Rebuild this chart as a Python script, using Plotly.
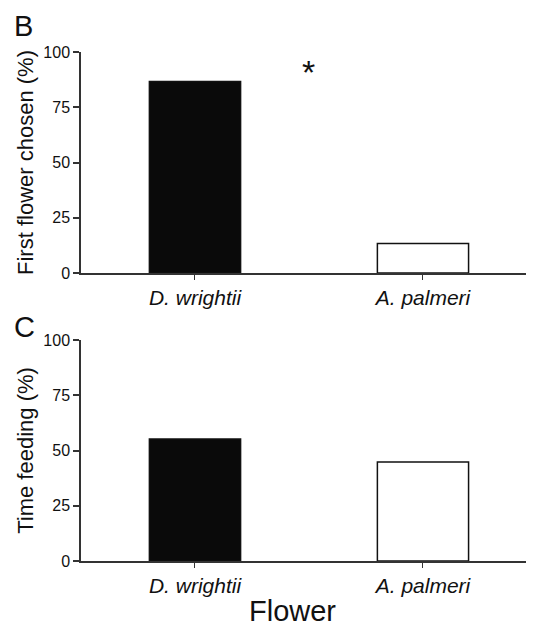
import plotly.graph_objects as go
from plotly.subplots import make_subplots

categories = ["D. wrightii", "A. palmeri"]
tick_labels = ["<i>D. wrightii</i>", "<i>A. palmeri</i>"]
first_chosen = [86.7, 13.3]
time_feeding = [55.2, 44.8]
bar_fills = ["#0a0a0a", "#ffffff"]
y_ticks = [0, 25, 50, 75, 100]

# page body has an 8px default margin; lay the figure out in window pixels
OFF = 8
W, H = 534 - OFF, 626 - OFF
L = 81 - OFF
FONT = "Liberation Sans, Arial, Helvetica, sans-serif"

fig = make_subplots(rows=2, cols=1)

fig.add_trace(go.Bar(x=categories, y=first_chosen, width=0.4,
                     marker=dict(color=bar_fills, line=dict(color="#111111", width=1.5)),
                     showlegend=False), row=1, col=1)
fig.add_trace(go.Bar(x=categories, y=time_feeding, width=0.4,
                     marker=dict(color=bar_fills, line=dict(color="#111111", width=1.5)),
                     showlegend=False), row=2, col=1)

def py(px):
    return 1 - (px - OFF) / H

def px_(x):
    return (x - OFF - L) / (W - L)

axis_common = dict(showline=True, linecolor="#333333", linewidth=1.5, ticks="outside",
                   tickcolor="#333333", showgrid=False, zeroline=False, automargin=False)

fig.update_layout(
    width=W, height=H, margin=dict(l=L, r=0, t=0, b=0, autoexpand=False),
    plot_bgcolor="white", paper_bgcolor="white",
    font=dict(family=FONT, color="#111111"),
    xaxis=dict(domain=[0, 1], anchor="y", range=[-0.5, 1.487], tickmode="array",
               tickvals=categories, ticktext=tick_labels, ticklen=5, tickwidth=1.2,
               tickfont=dict(size=21), **axis_common),
    xaxis2=dict(domain=[0, 1], anchor="y2", range=[-0.5, 1.487], tickmode="array",
                tickvals=categories, ticktext=tick_labels, ticklen=5, tickwidth=1.2,
                tickfont=dict(size=21), **axis_common),
    yaxis=dict(domain=[py(273), py(52)], anchor="x", range=[0, 100], tickvals=y_ticks,
               ticklen=6, tickwidth=1.5, tickfont=dict(size=16),
               title=dict(text="First flower chosen (%)", font=dict(size=22), standoff=4),
               **axis_common),
    yaxis2=dict(domain=[py(561), py(340)], anchor="x2", range=[0, 100], tickvals=y_ticks,
                ticklen=6, tickwidth=1.5, tickfont=dict(size=16),
                title=dict(text="Time feeding (%)", font=dict(size=22), standoff=4),
                **axis_common),
)

fig.add_annotation(x=0.5, y=91, xref="x", yref="y", text="*", showarrow=False,
                   font=dict(size=34, family=FONT), yanchor="middle")
fig.add_annotation(x=px_(12), y=py(25.5), xref="paper", yref="paper", text="B",
                   showarrow=False, xanchor="left", yanchor="middle", font=dict(size=29))
fig.add_annotation(x=px_(12), y=py(327), xref="paper", yref="paper", text="C",
                   showarrow=False, xanchor="left", yanchor="middle", font=dict(size=29))
fig.add_annotation(x=px_(292), y=py(611), xref="paper", yref="paper", text="Flower",
                   showarrow=False, xanchor="center", yanchor="middle", font=dict(size=29))

fig.write_html("out.html")
